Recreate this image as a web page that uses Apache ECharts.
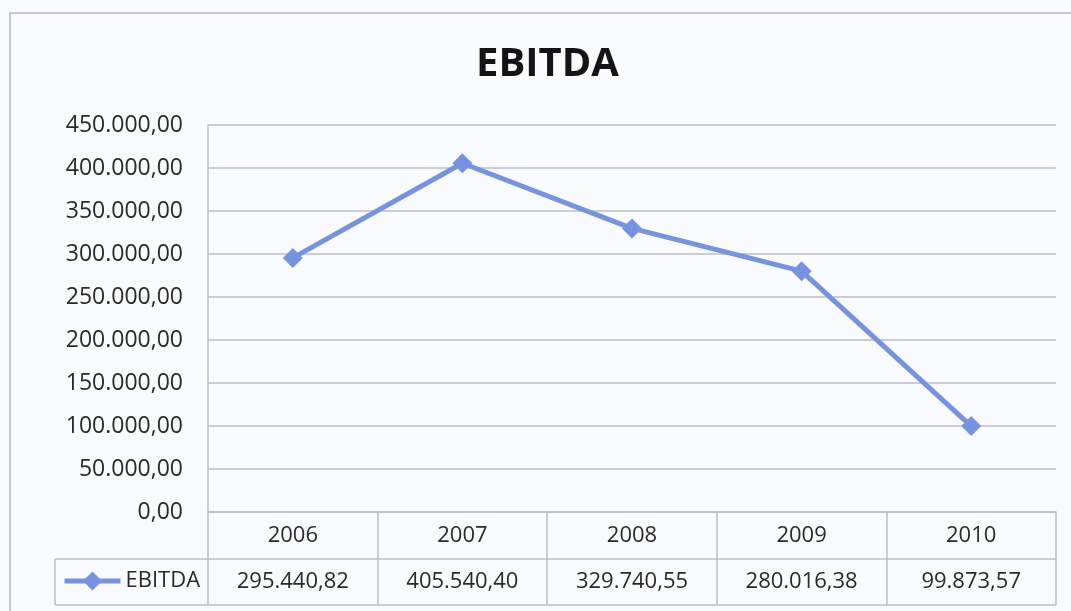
<!DOCTYPE html>
<html>
<head>
<meta charset="utf-8">
<title>EBITDA</title>
<script src="https://cdn.jsdelivr.net/npm/echarts@6/dist/echarts.min.js"></script>
<style>
  html, body { margin: 0; padding: 0; background: #f8fafd; }
  #chart { width: 1071px; height: 611px; }
</style>
</head>
<body>
<div id="chart"></div>
<script>
// data
const years = ['2006', '2007', '2008', '2009', '2010']
const ebitda = [295440.82, 405540.40, 329740.55, 280016.38, 99873.57]
const yTicks = [0, 50000, 100000, 150000, 200000, 250000, 300000, 350000, 400000, 450000]

const lineColor = '#7893de'
const gridColor = '#bcbcc8'
const font = '"Open Sans", "Liberation Sans", sans-serif'

// pt-BR number format: 450.000,00
function fmt(v) {
  const parts = v.toFixed(2).split('.')
  return parts[0].replace(/\B(?=(\d{3})+(?!\d))/g, '.') + ',' + parts[1]
}

const chart = echarts.init(document.getElementById('chart'))

chart.setOption({
  backgroundColor: '#f8fafd',
  animation: false,
  title: {
    text: 'EBITDA',
    left: 476,
    top: 45,
    padding: 0,
    textStyle: { fontFamily: font, fontSize: 40, fontWeight: 'bold', color: '#141414' }
  },
  legend: {
    data: ['EBITDA'],
    left: 62,
    top: 570,
    padding: 0,
    itemWidth: 56,
    itemHeight: 24,
    itemGap: 4,
    lineStyle: { width: 5, color: lineColor },
    itemStyle: { color: lineColor },
    textStyle: { fontFamily: font, fontSize: 22, color: '#2a2a2a', padding: [0, 0, 0, 0] }
  },
  grid: { left: 208, right: 15, top: 125, bottom: 99, containLabel: false },
  xAxis: {
    type: 'category',
    data: years,
    boundaryGap: true,
    axisLine: { show: true, lineStyle: { color: gridColor, width: 1.5 } },
    axisTick: {
      show: true,
      interval: 0,
      length: 93,
      lineStyle: { color: gridColor, width: 1.5 }
    },
    axisLabel: {
      interval: 0,
      margin: 1,
      formatter: (v, i) => '{y|' + v + '}\n{v|' + fmt(ebitda[i]) + '}',
      rich: {
        y: { fontFamily: font, fontSize: 22, color: '#2a2a2a', lineHeight: 46, height: 46 },
        v: { fontFamily: font, fontSize: 22, color: '#2a2a2a', lineHeight: 46, height: 46 }
      }
    }
  },
  yAxis: {
    type: 'value',
    min: yTicks[0],
    max: yTicks[yTicks.length - 1],
    interval: yTicks[1] - yTicks[0],
    axisLine: { show: true, lineStyle: { color: gridColor, width: 1.5 } },
    axisTick: { show: false },
    splitLine: { show: true, lineStyle: { color: gridColor, width: 1.5 } },
    axisLabel: {
      margin: 25,
      formatter: v => fmt(v),
      fontFamily: font,
      fontSize: 23,
      color: '#2a2a2a'
    }
  },
  series: [{
    name: 'EBITDA',
    type: 'line',
    data: ebitda,
    symbol: 'diamond',
    symbolSize: 20,
    lineStyle: { color: lineColor, width: 5 },
    itemStyle: { color: lineColor },
    z: 5
  }],
  graphic: [
    // outer chart-area border
    {
      type: 'rect',
      shape: { x: 10, y: 13, width: 1200, height: 800 },
      style: { fill: 'none', stroke: '#c4c6d6', lineWidth: 2 },
      silent: true
    },
    // data table rows
    {
      type: 'line',
      shape: { x1: 55, y1: 559, x2: 1056, y2: 559 },
      style: { stroke: gridColor, lineWidth: 1.5 },
      silent: true
    },
    {
      type: 'line',
      shape: { x1: 55, y1: 605, x2: 1056, y2: 605 },
      style: { stroke: gridColor, lineWidth: 1.5 },
      silent: true
    },
    {
      type: 'line',
      shape: { x1: 55, y1: 559, x2: 55, y2: 605 },
      style: { stroke: gridColor, lineWidth: 1.5 },
      silent: true
    }
  ]
})
</script>
</body>
</html>
